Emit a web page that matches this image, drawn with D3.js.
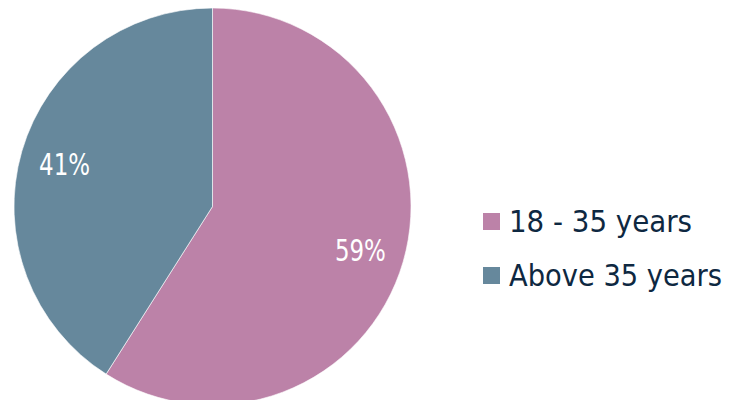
<!DOCTYPE html>
<html><head><meta charset="utf-8">
<script src="https://cdn.jsdelivr.net/npm/d3@7"></script>
<style>html,body{margin:0;padding:0;background:#fff;}svg{display:block;}</style>
</head><body>
<svg id="chart" width="730" height="400"></svg>
<script>
const categories = ["18 - 35 years", "Above 35 years"];
const values = [59, 41];
const labels = ["59%", "41%"];
const colors = ["#BC82A8", "#66889C"];

const svg = d3.select("#chart");
const cx = 212.5, cy = 206.5, R = 198.5;
const g = svg.append("g").attr("transform", `translate(${cx},${cy})`);
const pie = d3.pie().sort(null).value(d => d)(values);
const arc = d3.arc().innerRadius(0).outerRadius(R);
const labelArc = d3.arc().innerRadius(154).outerRadius(154);

g.selectAll("path").data(pie).join("path")
  .attr("d", arc).attr("fill", (d, i) => colors[i])
  .attr("stroke", "#fff").attr("stroke-width", 0.6);

g.selectAll("text.pct").data(pie).join("text").attr("class", "pct")
  .attr("x", d => labelArc.centroid(d)[0])
  .attr("y", d => labelArc.centroid(d)[1])
  .attr("dy", 11.5)
  .attr("text-anchor", "middle")
  .attr("fill", "#fff")
  .attr("font-family", "DejaVu Sans Condensed, DejaVu Sans, sans-serif")
  .attr("font-size", 31)
  .attr("textLength", 51).attr("lengthAdjust", "spacingAndGlyphs")
  .text((d, i) => labels[i]);

const lg = svg.append("g");
const ly = d3.scalePoint().domain(categories).range([221.5, 275.5]);
categories.forEach((c, i) => {
  lg.append("rect").attr("x", 483).attr("y", ly(c) - 8.5).attr("width", 17).attr("height", 17).attr("fill", colors[i]);
  lg.append("text").attr("x", 509).attr("y", ly(c) + 10.5)
    .attr("fill", "#0E2841")
    .attr("font-family", "DejaVu Sans Condensed, DejaVu Sans, sans-serif")
    .attr("font-size", 31)
    .attr("textLength", i === 0 ? 183 : 213).attr("lengthAdjust", "spacingAndGlyphs")
    .text(c);
});
</script>
</body></html>
